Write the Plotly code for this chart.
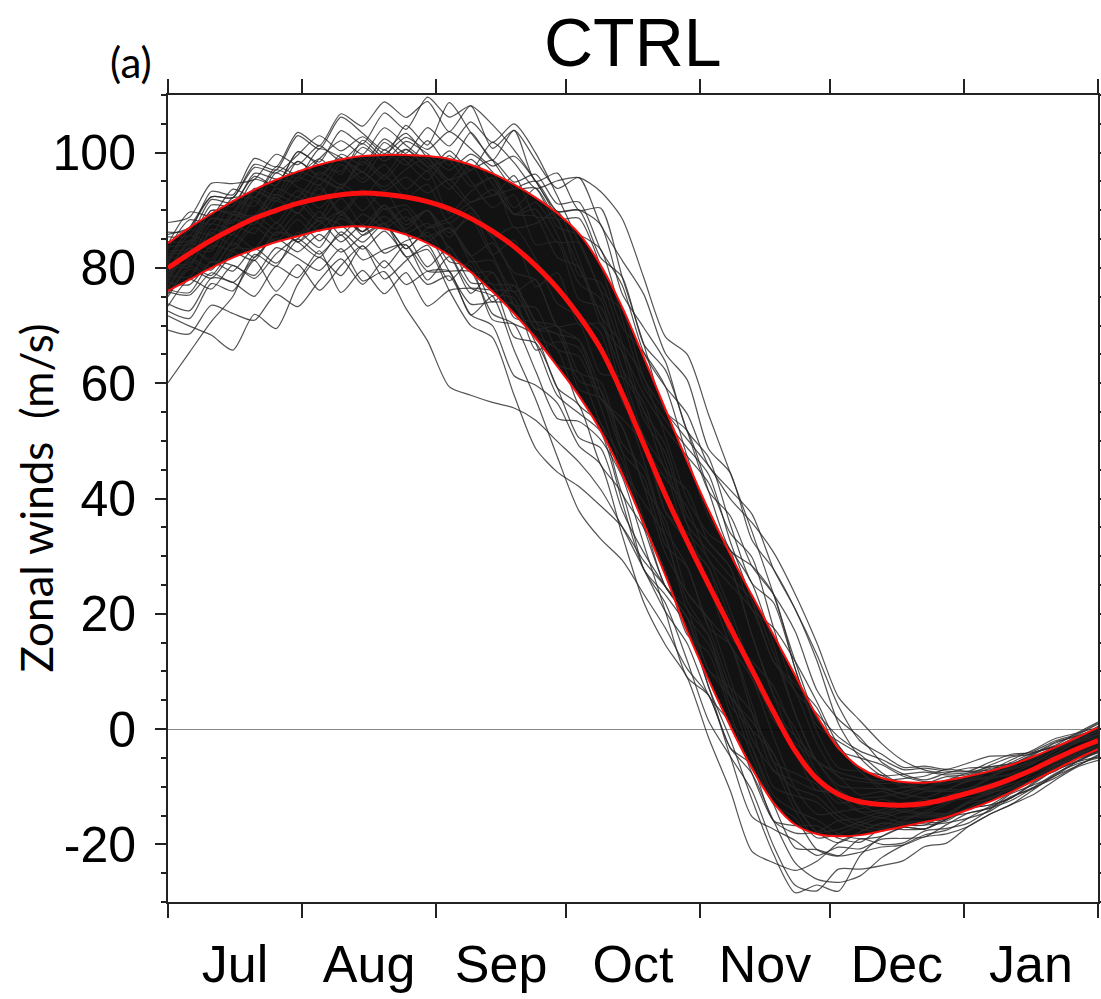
import datetime as dt
import plotly.graph_objects as go

# ---------------- data ----------------
START = dt.date(2001, 7, 1)
STEP_DAYS = 5

# ensemble mean (m/s), every 5 days from 1 Jul to 1 Feb
MEAN = [80.0, 82.5, 84.8, 86.8, 88.6, 90.0, 91.2, 92.1, 92.7, 93.0, 92.8,
        92.3, 91.5, 90.3, 88.6, 86.4, 83.7, 80.4, 76.5, 71.7, 66.0,
        58.2, 49.4, 40.6, 32.6, 25.0, 17.6, 10.3, 3.0, -3.8, -8.6,
        -11.3, -12.6, -13.1, -13.2, -12.9, -12.1, -11.1, -10.0, -8.6, -7.0, -5.2, -3.5, -2.0]
# mean + 1 std
UPPER = [84.3, 87.0, 89.4, 91.6, 93.6, 95.3, 96.7, 97.9, 98.8, 99.4, 99.6,
         99.6, 99.4, 98.9, 97.9, 96.4, 94.5, 92.2, 89.5, 86.0, 80.5,
         73.2, 64.5, 55.5, 46.5, 38.0, 30.3, 23.2, 16.3, 9.3, 2.3,
         -3.3, -6.7, -8.5, -9.2, -9.3, -8.9, -8.2, -7.3, -6.2, -4.8, -3.2, -1.5, 0.3]
# mean - 1 std
LOWER = [76.0, 78.0, 80.0, 81.8, 83.2, 84.5, 85.5, 86.5, 87.1, 87.2, 86.8,
         85.8, 84.3, 82.2, 79.3, 75.9, 72.1, 67.8, 62.9, 57.8, 51.8,
         44.3, 35.6, 26.6, 17.0, 8.5, 0.5, -6.8, -12.8, -16.6, -18.2,
         -18.6, -18.4, -17.7, -16.9, -16.1, -15.3, -14.0, -12.6, -10.9, -9.0, -7.1, -5.2, -3.5]

# individual members, as estimated departures from the mean in std units
MEMBER_Z = [
    [0.3, 0.9, 0.2, 1.0, 0.4, 1.2, 0.5, 0.1, 0.9, 0.3, 0.8,
     0.2, 0.7, -0.1, 0.5, 0.9, 0.3, 0.6, 1.0, 0.7, 0.4, 0.6,
     0.8, 0.7, 0.5, 0.6, 0.9, 1.0, 0.8, 0.5, 0.3, 0.2, 0.4,
     0.6, 0.5, 0.3, 0.5, 0.7, 0.6, 0.4, 0.5, 0.7, 0.6, 0.5],
    [-1.2, -0.6, -1.4, -0.8, -0.3, -1.0, -0.5, -1.3, -0.7, -1.1, -0.4,
     -0.9, -1.5, -0.8, -1.2, -0.9, -1.4, -1.1, -1.3, -1.5, -1.2, -1.4,
     -1.3, -1.1, -0.9, -1.0, -0.8, -0.7, -0.9, -0.6, -0.4, -0.6, -0.8,
     -1.0, -0.8, -0.9, -1.1, -0.9, -0.7, -0.8, -1.0, -0.9, -0.7, -0.8],
    [-4.8, -3.8, -3.0, -2.4, -1.2, -1.8, -0.9, -1.5, -0.6, -1.1, -0.3,
     -0.8, -0.2, -0.6, 0.1, -0.4, -0.7, -0.2, -0.5, -0.1, -0.3, 0.2,
     0.4, 0.3, 0.6, 0.5, 0.7, 0.4, 0.2, 0.3, 0.1, -0.1, -0.3,
     -0.2, 0.1, 0.0, -0.2, 0.1, 0.2, 0.0, -0.1, 0.1, 0.2, 0.0],
    [-2.0, -2.8, -3.5, -4.3, -3.2, -3.8, -2.5, -1.8, -2.4, -1.5, -2.0,
     -1.2, -1.8, -1.0, -1.4, -0.7, -1.1, -0.8, -0.5, -0.9, -0.6, -0.4,
     -0.5, -0.3, -0.6, -0.4, -0.2, -0.5, -0.7, -0.4, -0.2, 0.0, -0.3,
     -0.5, -0.3, -0.6, -0.8, -0.5, -0.3, -0.4, -0.6, -0.5, -0.3, -0.2],
    [1.5, 0.9, 1.8, 1.2, 2.0, 1.4, 2.2, 1.6, 2.4, 1.9, 2.5,
     2.0, 2.3, 1.6, 2.1, 1.4, 1.8, 1.2, 1.5, 1.3, 1.7, 1.4,
     1.2, 1.0, 1.3, 1.1, 0.9, 1.2, 1.4, 1.1, 0.8, 0.6, 0.9,
     1.1, 0.8, 1.0, 1.2, 0.9, 0.7, 1.0, 1.3, 1.1, 0.9, 1.2],
    [0.6, 0.1, 0.8, 0.3, 1.0, 0.5, 1.3, 0.7, 1.1, 0.4, 1.2,
     0.8, 1.4, 0.9, 1.6, 1.2, 1.8, 1.5, 1.3, 1.7, 1.5, 1.6,
     1.8, 1.7, 1.9, 1.6, 1.8, 1.5, 1.7, 1.9, 2.0, 1.6, 1.3,
     1.1, 1.4, 1.6, 1.3, 1.1, 1.4, 1.6, 1.3, 1.5, 1.2, 1.0],
    [-0.5, 0.2, -0.8, -0.2, -1.0, -0.4, -1.2, -0.6, -0.9, -1.4, -0.8,
     -1.3, -0.7, -1.1, -0.9, -1.5, -1.2, -1.0, -1.3, -1.1, -1.4, -1.2,
     -1.5, -1.3, -1.4, -1.6, -1.5, -1.4, -1.6, -1.8, -1.9, -1.7, -2.0,
     -2.3, -2.5, -2.2, -2.4, -2.0, -1.8, -1.9, -1.7, -1.5, -1.6, -1.3],
    [-0.4, 0.2, -0.7, 0.1, -0.5, 0.3, -0.3, 0.4, -0.6, 0.0, -0.8,
     -0.3, -0.9, -0.4, -0.7, -0.2, -0.5, -0.8, -0.6, -0.3, -0.5, -0.7,
     -0.4, -0.6, -0.3, -0.5, -0.2, -0.4, -0.6, -0.3, -0.1, -0.4, -0.6,
     -0.8, -0.5, -0.7, -0.9, -0.6, -0.4, -0.7, -0.9, -0.8, -0.6, -0.4],
    [-0.9, -1.5, -0.8, -1.3, -1.9, -1.2, -1.7, -2.2, -1.6, -2.5, -2.1,
     -2.8, -3.2, -3.7, -3.3, -2.9, -2.5, -2.2, -2.0, -1.8, -1.7, -1.6,
     -1.5, -1.4, -1.2, -1.3, -1.1, -0.9, -1.0, -0.8, -0.7, -0.9, -1.1,
     -1.2, -1.0, -1.3, -1.1, -0.9, -1.2, -1.4, -1.1, -1.0, -1.2, -0.9],
    [1.0, 1.6, 0.9, 1.4, 0.7, 1.3, 0.8, 1.5, 1.1, 0.6, 1.4,
     0.9, 0.5, 1.1, 0.7, 0.4, 0.8, 0.3, 0.6, 0.2, 0.5, 0.3,
     0.1, 0.3, 0.0, 0.2, -0.1, 0.1, 0.3, 0.2, 0.0, -0.2, 0.1,
     0.3, 0.6, 0.8, 0.5, 0.3, 0.6, 0.8, 0.6, 0.4, 0.7, 0.9],
    [0.5, -0.2, 0.6, 0.0, 0.7, -0.1, 0.4, -0.3, 0.2, -0.5, 0.1,
     -0.6, -0.2, -0.9, -1.3, -1.1, -1.6, -1.9, -2.2, -2.4, -2.3, -2.0,
     -1.8, -1.6, -1.5, -1.3, -1.4, -1.2, -1.3, -1.5, -1.7, -2.0, -2.2,
     -2.0, -1.8, -1.6, -1.7, -1.5, -1.3, -1.4, -1.2, -1.0, -1.1, -0.9],
    [-0.6, 0.1, -0.4, 0.3, -0.2, 0.5, 0.0, 0.6, 0.2, 0.9, 0.4,
     1.0, 0.7, 1.2, 0.9, 1.5, 1.3, 1.1, 1.4, 1.7, 1.9, 2.1,
     2.0, 1.9, 2.2, 2.0, 1.8, 1.6, 1.4, 1.2, 1.0, 1.1, 0.9,
     0.6, 0.8, 1.1, 0.9, 0.7, 1.0, 1.2, 1.4, 1.1, 0.9, 1.3],
    [0.1, -0.5, 0.4, -0.2, 0.6, -0.4, 0.2, -0.6, 0.3, -0.1, 0.5,
     0.0, 0.4, -0.3, 0.2, -0.1, 0.3, 0.1, -0.2, 0.0, 0.2, -0.1,
     0.1, -0.2, 0.0, 0.2, 0.1, -0.1, 0.0, 0.2, 0.3, 0.1, -0.1,
     0.2, 0.0, -0.2, 0.1, 0.3, 0.0, -0.2, 0.1, 0.2, 0.0, -0.1],
    [-1.8, -2.5, -1.6, -2.2, -1.4, -2.6, -1.9, -2.8, -2.1, -1.5, -2.3,
     -1.6, -1.0, -1.5, -0.8, -1.2, -0.6, -0.9, -0.5, -0.7, -0.4, -0.6,
     -0.3, -0.5, -0.7, -0.6, -0.8, -1.0, -1.1, -0.9, -1.2, -1.4, -1.1,
     -1.5, -1.7, -1.4, -1.6, -1.8, -1.5, -1.3, -1.6, -1.4, -1.2, -1.5],
    [-0.2, 0.4, -0.3, 0.5, 0.1, 0.7, 0.2, 0.8, 0.3, 0.6, 0.1,
     0.5, 0.2, 0.6, 0.3, 0.7, 0.5, 0.8, 0.6, 0.9, 0.7, 1.0,
     0.8, 1.0, 1.2, 1.4, 1.5, 1.7, 1.9, 2.1, 2.3, 2.2, 2.4,
     2.3, 2.0, 1.7, 1.4, 1.2, 1.3, 1.1, 0.9, 1.0, 0.8, 0.6],
    [-2.6, -3.1, -2.4, -3.0, -3.4, -2.7, -3.2, -2.5, -1.9, -2.6, -1.8,
     -2.2, -1.6, -1.3, -1.8, -1.1, -0.8, -1.2, -0.7, -0.4, -0.6, -0.3,
     0.0, -0.2, 0.1, 0.3, 0.2, 0.0, -0.1, 0.1, 0.3, 0.4, 0.2,
     0.5, 0.3, 0.6, 0.4, 0.2, 0.5, 0.3, 0.1, 0.4, 0.6, 0.3],
    [0.7, 0.2, 1.1, 0.5, 0.0, 0.8, 1.3, 0.6, 0.2, 1.0, 0.5,
     1.2, 0.8, 0.4, 1.0, 0.6, 1.1, 0.7, 0.9, 0.5, 0.8, 0.6,
     0.4, 0.6, 0.3, 0.5, 0.7, 0.4, 0.2, 0.0, -0.2, 0.1, -0.1,
     -0.3, 0.0, 0.2, -0.1, -0.3, -0.5, -0.2, 0.0, -0.3, -0.5, -0.2],
    [-0.2, 0.5, -0.1, 0.6, 0.0, 0.4, -0.3, 0.3, -0.5, 0.1, -0.4,
     -0.2, -0.6, -0.3, -0.8, -0.5, -0.9, -1.0, -0.8, -1.1, -0.9, -1.2,
     -1.0, -0.9, -1.1, -0.8, -1.0, -1.2, -1.3, -1.1, -0.9, -0.6, -0.5,
     -0.3, -0.6, -0.4, -0.2, 0.0, -0.3, -0.1, 0.1, -0.2, -0.4, -0.6],
    [0.4, 1.0, 1.6, 1.1, 1.8, 1.3, 2.1, 1.5, 2.3, 1.7, 1.2,
     1.6, 1.0, 0.6, 1.1, 0.8, 0.5, 0.9, 0.7, 0.4, 0.6, 0.3,
     0.5, 0.4, 0.2, 0.4, 0.6, 0.8, 0.7, 0.5, 0.3, 0.5, 0.7,
     0.9, 1.2, 1.4, 1.6, 1.3, 1.1, 1.4, 1.6, 1.8, 1.5, 1.2],
    [-0.8, -0.2, -1.0, -0.4, 0.1, -0.6, 0.0, -0.7, -0.1, -0.9, -0.3,
     -0.7, -0.2, -0.5, 0.0, -0.4, 0.1, -0.3, 0.2, -0.1, 0.3, 0.0,
     -0.2, -0.4, -0.3, -0.5, -0.7, -0.9, -1.1, -1.3, -1.2, -1.4, -1.5,
     -1.6, -1.8, -1.7, -1.9, -2.0, -1.8, -1.9, -2.1, -1.9, -1.7, -1.8],
    [0.2, -0.4, 0.3, -0.6, -0.1, -0.8, -0.3, -1.0, -0.5, -1.2, -0.8,
     -1.5, -1.1, -1.7, -2.0, -1.8, -2.3, -2.6, -2.4, -2.1, -1.9, -1.6,
     -1.4, -1.1, -0.9, -0.7, -0.8, -0.6, -0.5, -0.7, -0.9, -0.8, -0.6,
     -0.4, -0.2, -0.5, -0.3, -0.1, -0.4, -0.6, -0.3, -0.5, -0.7, -0.4],
    [-0.3, 0.3, 0.8, 0.2, 0.9, 0.4, 1.0, 0.6, 1.2, 0.8, 1.5,
     1.1, 1.7, 1.3, 1.8, 1.5, 1.9, 1.6, 1.2, 0.9, 0.7, 0.5,
     0.3, 0.5, 0.2, 0.0, -0.2, -0.1, -0.3, -0.5, -0.6, -0.4, -0.2,
     0.0, -0.3, -0.1, 0.2, 0.0, -0.2, 0.1, -0.1, -0.3, -0.1, 0.1],
    [-0.9, -0.3, -1.1, -0.5, -1.3, -0.7, -1.0, -0.4, -1.2, -0.6, -0.9,
     -0.5, -0.8, -0.4, -0.7, -0.9, -0.6, -0.8, -1.0, -0.7, -0.9, -0.8,
     -1.0, -1.1, -0.9, -1.2, -1.3, -1.5, -1.7, -1.9, -1.8, -2.2, -1.6,
     -1.2, -1.0, -1.3, -1.1, -0.9, -1.2, -1.0, -0.8, -1.1, -0.9, -1.0],
    [1.3, 0.7, 1.5, 0.9, 1.4, 0.8, 1.6, 1.0, 0.7, 1.3, 0.9,
     1.4, 1.1, 0.8, 1.2, 1.0, 0.6, 1.1, 0.9, 1.2, 1.0, 0.8,
     1.1, 1.3, 1.0, 0.8, 0.9, 0.7, 1.0, 1.2, 1.3, 1.1, 0.9,
     0.7, 0.5, 0.8, 1.0, 0.8, 0.6, 0.9, 1.1, 0.9, 0.7, 1.0],
    [1.4, 1.0, 1.6, 1.1, 1.7, 1.2, 1.5, 1.9, 1.3, 1.6, 1.1,
     1.5, 1.2, 1.6, 1.3, 1.1, 1.4, 1.2, 1.0, 1.3, 1.1, 1.4,
     1.2, 1.5, 1.3, 1.1, 1.3, 1.2, 1.4, 1.6, 1.5, 1.7, 1.9,
     1.6, 1.4, 1.2, 1.4, 1.5, 1.3, 1.1, 1.2, 1.4, 1.3, 1.5],
    [-1.6, -1.0, -1.8, -1.3, -2.0, -1.4, -1.1, -1.7, -1.2, -1.9, -1.5,
     -1.2, -1.6, -1.3, -1.0, -1.4, -1.2, -1.5, -1.7, -1.3, -1.1, -1.0,
     -1.2, -1.4, -1.6, -1.3, -1.5, -1.7, -1.4, -1.2, -1.3, -1.2, -1.4,
     -1.3, -1.5, -1.7, -1.4, -1.2, -1.4, -1.6, -1.5, -1.3, -1.4, -1.6],
    [0.8, 1.3, 0.6, 1.1, 0.7, 1.4, 0.9, 1.2, 0.6, 1.5, 1.0,
     1.8, 1.3, 2.2, 1.6, 1.2, 0.9, 1.1, 0.8, 1.0, 1.2, 0.9,
     0.7, 0.9, 1.1, 1.3, 1.0, 0.8, 0.6, 0.9, 1.2, 1.0, 1.3,
     1.5, 1.3, 1.1, 0.8, 1.0, 1.2, 0.9, 0.7, 1.0, 1.2, 1.1],
    [-0.6, -1.2, -0.8, -1.5, -1.0, -1.7, -1.1, -0.7, -1.4, -0.9, -1.6,
     -1.1, -0.8, -1.3, -1.6, -1.2, -0.9, -1.1, -1.4, -1.2, -1.0, -1.3,
     -1.5, -1.2, -1.0, -1.2, -1.4, -1.1, -1.3, -1.0, -0.8, -1.0, -1.2,
     -0.9, -1.1, -1.3, -1.0, -1.2, -1.4, -1.1, -1.3, -1.5, -1.2, -1.1],
    [1.9, 1.4, 2.1, 1.6, 1.3, 1.8, 1.2, 1.6, 1.0, 1.4, 0.9,
     1.2, 0.8, 1.0, 0.6, 0.9, 0.5, 0.7, 0.4, 0.6, 0.3, 0.5,
     0.6, 0.8, 1.0, 1.2, 1.1, 1.3, 1.0, 0.8, 1.1, 1.3, 1.5,
     1.7, 1.6, 1.8, 1.5, 1.3, 1.6, 1.8, 1.4, 1.2, 1.5, 1.7],
    [-0.3, -0.9, -0.2, -0.8, -1.4, -0.7, -1.2, -1.8, -1.1, -1.6, -1.0,
     -1.5, -1.9, -1.4, -1.8, -1.6, -2.0, -1.7, -1.5, -1.6, -1.4, -1.7,
     -1.9, -1.8, -1.6, -1.8, -1.9, -2.1, -1.8, -1.6, -1.4, -1.1, -0.9,
     -0.7, -0.9, -1.1, -1.3, -1.5, -1.6, -1.4, -1.5, -1.7, -1.6, -1.4],
    [1.1, 0.5, 1.3, 0.8, 1.5, 1.0, 0.7, 1.2, 1.6, 1.1, 1.8,
     1.3, 0.9, 0.5, 0.2, -0.1, -0.4, -0.2, -0.5, -0.3, -0.6, -0.4,
     -0.5, -0.7, -0.6, -0.4, -0.6, -0.8, -0.7, -0.5, -0.3, -0.5, -0.7,
     -0.9, -0.7, -0.5, -0.8, -1.0, -0.8, -0.6, -0.9, -0.7, -0.5, -0.7],
    [-1.0, -1.6, -1.2, -1.9, -1.3, -0.9, -1.5, -1.1, -1.7, -1.2, -0.8,
     -1.3, -0.6, -0.2, 0.3, 0.6, 0.9, 1.2, 1.0, 1.3, 1.5, 1.2,
     1.4, 1.6, 1.3, 1.5, 1.2, 1.0, 1.3, 1.1, 0.9, 1.2, 1.4,
     1.2, 0.9, 0.7, 1.0, 1.2, 0.9, 0.7, 0.5, 0.8, 1.0, 0.8],
    [0.2, 0.7, -0.1, 0.5, 0.9, 0.3, 0.8, 0.4, 1.0, 0.6, 0.2,
     0.7, 1.0, 0.6, 0.9, 1.2, 1.0, 1.3, 1.1, 1.4, 1.2, 1.3,
     1.1, 1.3, 1.5, 1.4, 1.6, 1.8, 1.7, 1.9, 2.1, 2.0, 1.8,
     1.9, 1.7, 1.9, 1.6, 1.8, 2.0, 1.7, 1.5, 1.6, 1.4, 1.6],
    [-1.5, -2.2, -1.4, -1.9, -2.6, -1.8, -2.3, -1.6, -2.9, -2.2, -2.7,
     -1.9, -2.4, -1.7, -1.3, -1.0, -0.7, -0.9, -0.6, -0.8, -0.5, -0.7,
     -0.9, -1.1, -0.8, -1.0, -0.7, -0.5, -0.6, -0.8, -1.0, -0.9, -0.7,
     -0.5, -0.8, -1.0, -1.2, -0.9, -0.7, -1.0, -0.8, -0.6, -0.9, -1.1],
    [0.9, 0.4, 1.1, 0.6, 1.3, 0.8, 1.6, 1.1, 1.9, 1.4, 2.2,
     1.7, 2.4, 1.9, 2.1, 1.8, 1.5, 1.2, 0.9, 0.6, 0.4, 0.2,
     0.0, 0.2, 0.4, 0.3, 0.5, 0.7, 0.6, 0.8, 0.6, 0.4, 0.6,
     0.8, 1.0, 0.7, 0.5, 0.8, 1.0, 0.7, 0.9, 1.1, 0.8, 0.6],
    [-1.1, -0.5, -1.3, -0.7, -1.0, -0.4, -1.2, -0.8, -0.5, -1.1, -0.6,
     -0.9, -0.5, -0.8, -1.0, -0.7, -0.9, -0.6, -0.8, -0.5, -0.7, -0.9,
     -0.7, -0.5, -0.8, -0.6, -0.9, -0.7, -0.5, -0.7, -0.9, -1.1, -0.9,
     -0.7, -0.9, -1.1, -0.8, -0.6, -0.8, -1.0, -0.8, -0.6, -0.8, -0.9],
]

Y_TICKS = [-20, 0, 20, 40, 60, 80, 100]
Y_TICK_TEXT = ["-20", "0", "20", "40", "60", "80", "100"]
TITLE = "CTRL"
PANEL = "(a)"
Y_LABEL = "Zonal winds  (m/s)"

# ---------------- figure ----------------
dates = [START + dt.timedelta(days=STEP_DAYS * i) for i in range(len(MEAN))]
half = [(u - l) / 2 for u, l in zip(UPPER, LOWER)]

fig = go.Figure()
# dense core of the ensemble between the +/-1 std curves
fig.add_trace(go.Scatter(x=dates, y=LOWER, mode="lines",
                         line=dict(width=0, shape="spline", smoothing=0.8),
                         hoverinfo="skip", showlegend=False))
fig.add_trace(go.Scatter(x=dates, y=UPPER, mode="lines",
                         line=dict(width=0, shape="spline", smoothing=0.8),
                         fill="tonexty", fillcolor="rgba(0,0,0,0.93)",
                         hoverinfo="skip", showlegend=False))
for z in MEMBER_Z:
    y = [m + zz * h for m, zz, h in zip(MEAN, z, half)]
    fig.add_trace(go.Scatter(x=dates[:len(y)], y=y, mode="lines",
                             line=dict(color="rgba(40,40,40,0.8)", width=1.2,
                                       shape="spline", smoothing=0.7),
                             showlegend=False))
for series, w in ((UPPER, 2), (LOWER, 2), (MEAN, 5)):
    fig.add_trace(go.Scatter(x=dates, y=series, mode="lines",
                             line=dict(color="#ff1010", width=w,
                                       shape="spline", smoothing=1.0),
                             showlegend=False))

axis_col = "#222222"
fig.update_layout(
    width=1101, height=999,
    margin=dict(l=168, r=3, t=95, b=97),
    paper_bgcolor="white", plot_bgcolor="white",
    font=dict(family="Liberation Sans, Arial, sans-serif", color="black"),
    xaxis=dict(
        type="date", range=["2001-07-01", "2002-02-01"], automargin=False,
        tick0="2001-07-01", dtick="M1", ticklabelmode="period", tickformat="%b",
        ticks="outside", ticklen=14, tickwidth=1.5, tickcolor=axis_col,
        showline=True, linecolor=axis_col, linewidth=2, mirror="ticks",
        showgrid=False, zeroline=False,
        tickfont=dict(size=52, family="Liberation Sans, Arial, sans-serif"),
        ticklabelstandoff=2,
    ),
    yaxis=dict(
        range=[-30, 110], tickvals=Y_TICKS, ticktext=Y_TICK_TEXT, automargin=False,
        ticks="outside", ticklen=11, tickwidth=1.5, tickcolor=axis_col,
        minor=dict(dtick=5, tick0=0, ticks="outside", ticklen=5, tickwidth=1.5,
                   tickcolor=axis_col, showgrid=False),
        showline=True, linecolor=axis_col, linewidth=2, mirror="ticks",
        showgrid=False, zeroline=True, zerolinecolor="#8a8a8a", zerolinewidth=1,
        tickfont=dict(size=50, family="Liberation Sans, Arial, sans-serif"),
        ticklabelstandoff=9,
    ),
    annotations=[
        dict(text=TITLE, xref="paper", yref="paper", x=0.5, y=1 + (95 - 42) / 807,
             xanchor="center", yanchor="middle", showarrow=False,
             font=dict(size=68, family="Liberation Sans, Arial, sans-serif")),
        dict(text=PANEL, xref="paper", yref="paper", x=(131 - 168) / 930,
             y=1 + (95 - 62) / 807, xanchor="center", yanchor="middle",
             showarrow=False, font=dict(size=42, family="Lato, sans-serif")),
        dict(text=Y_LABEL, xref="paper", yref="paper", x=(35 - 168) / 930, y=0.5,
             xanchor="center", yanchor="middle", textangle=-90, showarrow=False,
             font=dict(size=44, family="Lato, sans-serif")),
    ],
)

fig.write_html("out.html")
